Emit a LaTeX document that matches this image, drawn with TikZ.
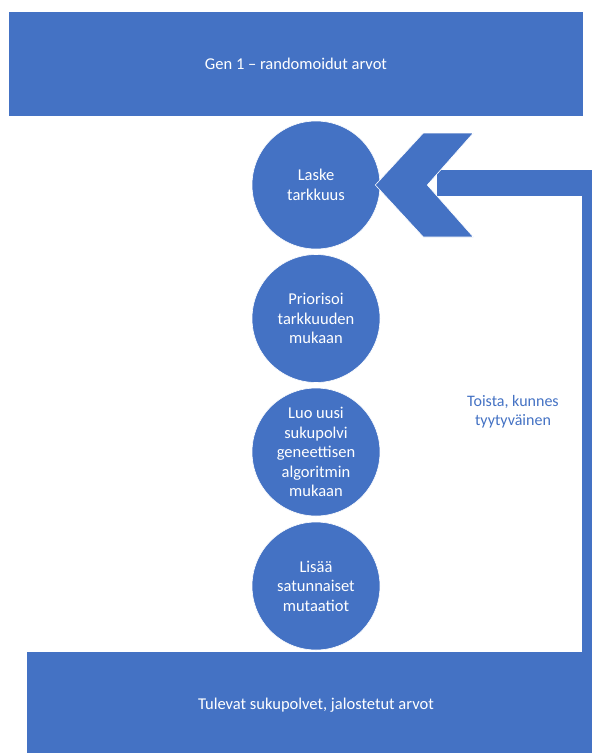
\documentclass[tikz,border=0pt]{standalone}
\usepackage{fontspec}
\setmainfont{Carlito}
\usetikzlibrary{calc}
\definecolor{obl}{HTML}{4472C4}
\begin{document}
\begin{tikzpicture}[x=1pt,y=-1pt,
  bigbox/.style={fill=obl, text=white, inner sep=0pt, font=\fontsize{16.5}{20}\selectfont},
  stage/.style={circle, fill=obl, draw=white, line width=0.6pt, minimum size=128pt, inner sep=0pt,
     text=white, align=center, font=\fontsize{16.5}{19.5}\selectfont},
  loopbar/.style={fill=obl},
  looptext/.style={text=obl, align=center, font=\fontsize{16}{19}\selectfont}]
\useasboundingbox (0,0) rectangle (592,753);
\clip (0,0) rectangle (592,753);
\fill[white] (0,0) rectangle (592,753);
% top and bottom bands
\node[bigbox, minimum width=574pt, minimum height=104pt] (gen) at (296,64) {Gen 1 – randomoidut arvot};
\node[bigbox, minimum width=578pt, minimum height=106pt] (fut) at (316,705) {Tulevat sukupolvet, jalostetut arvot};
% feedback loop bar
\fill[loopbar] (437,170) rectangle (592,196);
\fill[loopbar] (582,170) rectangle (592,663);
% stages
\node[stage] (c1) at (316,185) {Laske\\tarkkuus};
\node[stage] (c2) at (316,318.5) {Priorisoi\\tarkkuuden\\mukaan};
\node[stage] (c3) at (316,452) {Luo uusi\\sukupolvi\\geneettisen\\algoritmin\\mukaan};
\node[stage] (c4) at (316,586) {Lisää\\satunnaiset\\mutaatiot};
% chevron arrow into first stage
\coordinate (tip) at ($(c1.east)+(-5,0)$);
\fill[obl, draw=white, line width=0.6pt] (tip) -- ++(48,-52) -- ++(50,0) -- ++(-46,52)
   -- ++(46,52) -- ++(-50,0) -- cycle;
% label
\node[looptext] (lbl) at (513,412) {Toista, kunnes\\tyytyväinen};
\end{tikzpicture}
\end{document}
